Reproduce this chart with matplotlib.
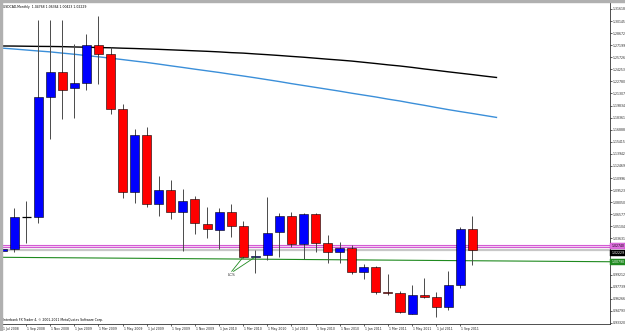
import matplotlib
matplotlib.use("Agg")
import matplotlib.pyplot as plt
from matplotlib.patches import Rectangle
import matplotlib.transforms as mtransforms

# ---------------- data ----------------
header_text = "USDCAD,Monthly  1.04768 1.06364 1.00423 1.02229"
copyright_text = "Interbank FX Trader 4, \u00a9 2001-2011 MetaQuotes Software Corp."

months = ["Jul 2008", "Aug 2008", "Sep 2008", "Oct 2008", "Nov 2008", "Dec 2008",
          "Jan 2009", "Feb 2009", "Mar 2009", "Apr 2009", "May 2009", "Jun 2009",
          "Jul 2009", "Aug 2009", "Sep 2009", "Oct 2009", "Nov 2009", "Dec 2009",
          "Jan 2010", "Feb 2010", "Mar 2010", "Apr 2010", "May 2010", "Jun 2010",
          "Jul 2010", "Aug 2010", "Sep 2010", "Oct 2010", "Nov 2010", "Dec 2010",
          "Jan 2011", "Feb 2011", "Mar 2011", "Apr 2011", "May 2011", "Jun 2011",
          "Jul 2011", "Aug 2011", "Sep 2011", "Oct 2011"]

opens = [1.0205, 1.0234, 1.0625, 1.0627, 1.2088, 1.2393, 1.2198, 1.2259, 1.2722, 1.2610,
         1.1942, 1.0929, 1.1624, 1.0783, 1.0954, 1.0686, 1.0840, 1.0539, 1.0466, 1.0686,
         1.0515, 1.0137, 1.0161, 1.0442, 1.0637, 1.0295, 1.0661, 1.0307, 1.0198, 1.0247,
         0.9954, 1.0010, 0.9710, 0.9700, 0.9442, 0.9673, 0.9649, 0.9527, 0.9795, 1.04768]
highs = [1.0290, 1.0734, 1.0820, 1.3027, 1.3027, 1.3027, 1.2740, 1.2850, 1.3076, 1.2700,
         1.2000, 1.1700, 1.1720, 1.1125, 1.1076, 1.0966, 1.0880, 1.0747, 1.0730, 1.0783,
         1.0576, 1.0222, 1.0868, 1.0673, 1.0686, 1.0673, 1.0673, 1.0410, 1.0320, 1.0280,
         1.0050, 1.0030, 0.9930, 0.9720, 0.9795, 0.9880, 0.9710, 0.9960, 1.0500, 1.06364]
lows = [0.9978, 1.0200, 1.0308, 1.0551, 1.1580, 1.1820, 1.1830, 1.2170, 1.2245, 1.1880,
        1.0860, 1.0795, 1.0750, 1.0637, 1.0600, 1.0205, 1.0417, 1.0368, 1.0234, 1.0381,
        1.0120, 0.9942, 1.0100, 1.0137, 1.0259, 1.0112, 1.0198, 1.0064, 1.0060, 0.9930,
        0.9870, 0.9680, 0.9673, 0.9455, 0.9442, 0.9640, 0.9406, 0.9491, 0.9759, 1.00423]
closes = [1.0234, 1.0625, 1.0627, 1.2088, 1.2393, 1.2173, 1.2259, 1.2722, 1.2610, 1.1942,
          1.0929, 1.1624, 1.0783, 1.0954, 1.0686, 1.0820, 1.0551, 1.0478, 1.0686, 1.0515,
          1.0137, 1.0149, 1.0429, 1.0637, 1.0295, 1.0661, 1.0307, 1.0198, 1.0247, 0.9954,
          1.0010, 0.9710, 0.9700, 0.9466, 0.9673, 0.9649, 0.9527, 0.9795, 1.0478, 1.02229]

# moving averages (values per bar, line extends a little past last bar)
ma_slow = [1.2710, 1.2709, 1.2707, 1.2705, 1.2704, 1.2702, 1.2698, 1.2695, 1.2691, 1.2688,
           1.2683, 1.2679, 1.2674, 1.2669, 1.2663, 1.2657, 1.2651, 1.2645, 1.2638, 1.2629,
           1.2623, 1.2613, 1.2604, 1.2594, 1.2583, 1.2573, 1.2561, 1.2549, 1.2538, 1.2526,
           1.2511, 1.2496, 1.2480, 1.2466, 1.2449, 1.2430, 1.2413, 1.2395, 1.2378, 1.2361,
           1.2343, 1.2326]
ma_fast = [1.2684, 1.2673, 1.2661, 1.2649, 1.2638, 1.2623, 1.2609, 1.2593, 1.2578, 1.2561,
           1.2544, 1.2526, 1.2509, 1.2489, 1.2468, 1.2448, 1.2427, 1.2407, 1.2387, 1.2365,
           1.2344, 1.2322, 1.2299, 1.2276, 1.2251, 1.2228, 1.2205, 1.2182, 1.2159, 1.2134,
           1.2111, 1.2088, 1.2062, 1.2039, 1.2012, 1.1987, 1.1960, 1.1934, 1.1910, 1.1887,
           1.1863, 1.1839]

pink_levels = [1.0289, 1.0259]
pink_label = "1.02740"
bid_level = 1.02229
bid_label = "1.02229"
green_line = [1.0133, 1.0079]   # left end, right end
green_label = "1.00790"

lcs_text = "LCS"
lcs_pos = (19.0, 0.9917)

ytick_values = [0.93320, 0.94793, 0.96266, 0.97739, 0.99212, 1.00685, 1.02158, 1.03631,
                1.05104, 1.06577, 1.08050, 1.09523, 1.10996, 1.12469, 1.13942, 1.15415,
                1.16888, 1.18361, 1.19834, 1.21307, 1.22780, 1.24253, 1.25726, 1.27199,
                1.28672, 1.30145, 1.31618]
ytick_labels = ["0.93320", "0.94793", "0.96266", "0.97739", "0.99212", "", "", "1.03631",
                "1.05104", "1.06577", "1.08050", "1.09523", "1.10996", "1.12469", "1.13942",
                "1.15415", "1.16888", "1.18361", "1.19834", "1.21307", "1.22780", "1.24253",
                "1.25726", "1.27199", "1.28672", "1.30145", "1.31618"]
xtick_index = list(range(0, 40, 2))
xtick_labels = ["1 " + months[i] for i in xtick_index]

# ---------------- style ----------------
W, H = 625, 331
FS = 2.25
UP, DOWN = "#0000ff", "#ff0000"
WICK = "#4a4a4a"

plt.rcParams['font.family'] = ['DejaVu Sans']
fig = plt.figure(figsize=(W / 100, H / 100), dpi=100)
fig.patch.set_facecolor("white")

ax_l, ax_r, ax_t, ax_b = 2, 610, 2, 324
ax = fig.add_axes([ax_l / W, (H - ax_b) / H, (ax_r - ax_l) / W, (ax_b - ax_t) / H])
ax.set_facecolor("white")

px_per_bar = 12.08
bar_px0 = 1.0
ax.set_xlim((ax_l - bar_px0) / px_per_bar, (ax_r - bar_px0) / px_per_bar)
ax.set_ylim(0.93198, 1.32463)

# window border strips (top and left)
fig.patches.append(Rectangle((0, 0), 2 / W, 1, transform=fig.transFigure,
                             color="#b0b0b0", zorder=0))
fig.patches.append(Rectangle((0, 1 - 2 / H), 1, 2 / H, transform=fig.transFigure,
                             color="#b0b0b0", zorder=0))

# horizontal levels
x0, x1 = ax.get_xlim()
ax.fill_between([x0, x1], pink_levels[1], pink_levels[0], color="#f3dcf3", lw=0, zorder=1)
for lv in pink_levels:
    ax.axhline(lv, color="#d45ad4", lw=0.8, zorder=2)
ax.axhline(bid_level, color="#c8c8c8", lw=1.6, zorder=1.5)
ax.plot([x0, x1], green_line, color="#1f8a1f", lw=0.8, zorder=2)

# moving averages
ax.plot(range(len(ma_slow)), ma_slow, color="black", lw=1.0, zorder=2.5)
ax.plot(range(len(ma_fast)), ma_fast, color="#3b8fd9", lw=1.0, zorder=2.5)

# candles
bw = 0.75
for i, (o, h, l, c) in enumerate(zip(opens, highs, lows, closes)):
    ax.vlines(i, l, h, color=WICK, lw=0.7, zorder=3)
    if abs(c - o) < 0.0005:
        ax.hlines(o, i - bw / 2, i + bw / 2, color="black", lw=0.9, zorder=4)
    else:
        col = UP if c > o else DOWN
        ax.add_patch(Rectangle((i - bw / 2, min(o, c)), bw, abs(c - o), fc=col,
                               ec="black", lw=0.4, zorder=4))

# LCS annotation
lcs_targets = [(20, closes[20]), (21, min(opens[21], closes[21]))]
ax.text(lcs_pos[0], lcs_pos[1], lcs_text, fontsize=3.0, color="#333333",
        ha="center", va="center", zorder=5)
for k, (tx, ty) in enumerate(lcs_targets):
    ax.plot([lcs_pos[0] + 0.05 + 0.15 * k, tx], [lcs_pos[1] + 0.0045, ty],
            color="#1f8a1f", lw=0.6, zorder=5)

# axes / ticks
for s in ["left", "top"]:
    ax.spines[s].set_visible(False)
for s in ["right", "bottom"]:
    ax.spines[s].set_color("#333333")
    ax.spines[s].set_linewidth(0.6)

ax.yaxis.tick_right()
ax.set_yticks(ytick_values)
ax.set_yticklabels(ytick_labels)
ax.tick_params(axis="y", direction="out", length=1.2, width=0.5, pad=0.6,
               labelsize=FS, colors="#222222")

ax.set_xticks(xtick_index)
ax.set_xticklabels(xtick_labels)
ax.tick_params(axis="x", direction="out", length=1.5, width=0.5, pad=0.6,
               labelsize=FS, colors="#222222")
offset = mtransforms.ScaledTranslation(1 / 100, 0, fig.dpi_scale_trans)
for lbl in ax.get_xticklabels():
    lbl.set_horizontalalignment("left")
    lbl.set_transform(lbl.get_transform() + offset)

# price boxes on the right axis
blend = mtransforms.blended_transform_factory(ax.transAxes, ax.transData)
pink_mid = (pink_levels[0] + pink_levels[1]) / 2
ax.text(1.002, pink_mid, pink_label, transform=blend, fontsize=FS, color="black",
        ha="left", va="center", clip_on=False, zorder=6,
        bbox=dict(boxstyle="square,pad=0.35", fc="#e070e0", ec="#c040c0", lw=0.3))
ax.text(1.002, bid_level - 0.0035, bid_label, transform=blend, fontsize=FS, color="white",
        ha="left", va="center", clip_on=False, zorder=5.5,
        bbox=dict(boxstyle="square,pad=0.3", fc="black", ec="black", lw=0.3))
ax.text(1.002, green_line[1], green_label, transform=blend, fontsize=FS, color="white",
        ha="left", va="center", clip_on=False, zorder=6,
        bbox=dict(boxstyle="square,pad=0.35", fc="#1f8a1f", ec="#1f8a1f", lw=0.3))

# header / copyright
ax.text(0.002, 0.992, header_text, transform=ax.transAxes, fontsize=FS, color="black",
        ha="left", va="top", zorder=6)
ax.text(0.001, 0.006, copyright_text, transform=ax.transAxes, fontsize=FS, color="black",
        ha="left", va="bottom", zorder=6)

fig.savefig("out.png", dpi=100, facecolor="white")
